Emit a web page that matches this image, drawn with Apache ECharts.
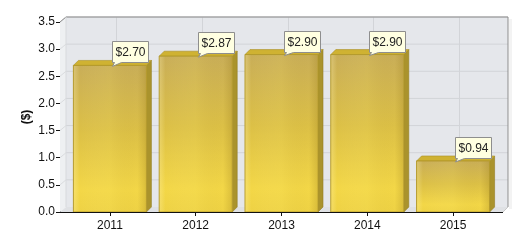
<!DOCTYPE html>
<html><head><meta charset="utf-8">
<script src="https://cdn.jsdelivr.net/npm/echarts@6/dist/echarts.min.js"></script>
<style>html,body{margin:0;padding:0;background:#fff}#c{width:530px;height:250px}</style>
</head><body><div id="c"></div>
<script>
const categories = ['2011', '2012', '2013', '2014', '2015'];
const values = [2.70, 2.87, 2.90, 2.90, 0.94];
const yTicks = [0, 0.5, 1.0, 1.5, 2.0, 2.5, 3.0, 3.5];
const yAxisName = '($)';

const FONT = '"Liberation Sans", Arial, sans-serif';
const WD = 6, BD = 5;

function renderWall(params, api) {
  const cs = params.coordSys;
  const fx0 = cs.x - 7, fx1 = cs.x + cs.width + 7;
  const fy0 = cs.y, fy1 = cs.y + cs.height;
  const ch = [];
  ch.push({type:'rect', shape:{x:fx1+6, y:fy0-3, width:3, height:fy1-fy0}, style:{fill:'#f3f3f3'}});
  ch.push({type:'polygon', shape:{points:[[fx0,fy0],[fx0+WD,fy0-5],[fx0+WD,fy1-5],[fx0,fy1]]}, style:{fill:'#eef0f2'}});
  ch.push({type:'polygon', shape:{points:[[fx0,fy1],[fx0+WD,fy1-5],[fx1+5,fy1-5],[fx1,fy1]]}, style:{fill:'#dfe1e4'}});
  ch.push({type:'rect', shape:{x:fx0+WD, y:fy0-5, width:fx1+5-(fx0+WD), height:fy1-fy0}, style:{fill:'#e5e7eb'}});
  yTicks.forEach(function (v) {
    if (v === 0) return;
    const y = api.coord([0, v])[1];
    ch.push({type:'line', shape:{x1:fx0+WD, y1:y-5, x2:fx1+5, y2:y-5}, style:{stroke:'#d2d4d8', lineWidth:1}});
    ch.push({type:'line', shape:{x1:fx0, y1:y, x2:fx0+WD, y2:y-5}, style:{stroke:'#dadcdf', lineWidth:1}});
  });
  categories.forEach(function (c, i) {
    const x = Math.round(api.coord([i, 0])[0] + WD) + 0.5;
    ch.push({type:'line', shape:{x1:x, y1:fy0-5, x2:x, y2:fy1-5}, style:{stroke:'#d2d4d8', lineWidth:1}});
  });
  ch.push({type:'polyline', shape:{points:[[fx0,fy0],[fx0+WD,fy0-5],[fx1+5,fy0-5],[fx1+5,fy1-5]]}, style:{stroke:'#8c8c8c', lineWidth:1, fill:null}});
  ch.push({type:'line', shape:{x1:fx0+WD, y1:fy0-5, x2:fx0+WD, y2:fy1-5}, style:{stroke:'#d8dadd', lineWidth:1}});
  ch.push({type:'line', shape:{x1:fx1, y1:fy1, x2:fx1+5, y2:fy1-5}, style:{stroke:'#c8c8c8', lineWidth:1}});
  return {type:'group', children:ch};
}

function renderBar(params, api) {
  const i = api.value(0), v = api.value(1);
  const top = api.coord([i, v]), base = api.coord([i, 0]);
  const hw = 36.5;
  const x0 = top[0] - hw, x1 = top[0] + hw, yT = top[1], yB = base[1];
  const grad = new echarts.graphic.LinearGradient(0, 0, 0, 1, [
    {offset:0, color:'#c9ae58'},
    {offset:0.45, color:'#dcc046'},
    {offset:0.85, color:'#f3d747'},
    {offset:1, color:'#eed244'}
  ]);
  const side = new echarts.graphic.LinearGradient(0, 0, 1, 0, [
    {offset:0, color:'rgba(255,245,190,0.28)'},
    {offset:0.08, color:'rgba(255,245,190,0)'},
    {offset:0.5, color:'rgba(255,240,120,0.10)'},
    {offset:0.88, color:'rgba(140,110,20,0)'},
    {offset:1, color:'rgba(140,110,20,0.22)'}
  ]);
  return {type:'group', children:[
    {type:'polygon', shape:{points:[[x1,yT],[x1+BD,yT-BD],[x1+BD,yB-BD],[x1,yB]]}, style:{fill:'#aa932c', stroke:'#937e22', lineWidth:0.6}},
    {type:'polygon', shape:{points:[[x0,yT],[x0+BD,yT-BD],[x1+BD,yT-BD],[x1,yT]]}, style:{fill:'#cfb232', stroke:'#a88f25', lineWidth:0.6}},
    {type:'rect', shape:{x:x0, y:yT, width:x1-x0, height:yB-yT}, style:{fill:grad, stroke:'#b49a2c', lineWidth:1}},
    {type:'rect', shape:{x:x0+0.5, y:yT+0.5, width:x1-x0-1, height:yB-yT-1}, style:{fill:side}}
  ]};
}

function renderLabel(params, api) {
  const i = api.value(0), v = api.value(1);
  const top = api.coord([i, v]);
  const cx = top[0], yT = top[1];
  const bx = Math.round(cx + 2) + 0.5, by = Math.round(yT - 24) + 0.5, w = 36, h = 21;
  return {type:'group', children:[
    {type:'polygon', shape:{points:[[bx,by],[bx+w,by],[bx+w,by+h],[bx+9,by+h],[bx,yT+1],[bx+2,by+h],[bx,by+h]]}, style:{fill:'#ffffe1', stroke:'#8e8e8e', lineWidth:1}},
    {type:'text', style:{x:bx+w/2, y:by+h/2+0.5, text:'$' + v.toFixed(2), fill:'#222', font:'12px ' + FONT, align:'center', verticalAlign:'middle'}}
  ]};
}

function renderXLine(params, api) {
  const cs = params.coordSys;
  const y = cs.y + cs.height + 0.5;
  return {type:'line', shape:{x1:cs.x - 7, y1:y, x2:cs.x + cs.width + 7, y2:y}, style:{stroke:'#111', lineWidth:1}};
}

const data = values.map(function (v, i) { return [i, v]; });

const chart = echarts.init(document.getElementById('c'), null, {renderer:'canvas'});
chart.setOption({
  animation:false,
  backgroundColor:'#fff',
  grid:{left:67, right:34, top:22, bottom:38},
  xAxis:{type:'category', data:categories,
    axisLine:{show:false},
    axisTick:{show:true, alignWithLabel:true, length:4, lineStyle:{color:'#111'}},
    axisLabel:{fontSize:12, color:'#111', fontFamily:FONT, margin:8},
    splitLine:{show:false}},
  yAxis:{type:'value', min:0, max:3.5, interval:0.5, offset:7,
    name:yAxisName, nameLocation:'middle', nameRotate:90, nameGap:27, nameMoveOverlap:false,
    nameTextStyle:{fontSize:12, fontWeight:'bold', color:'#111', fontFamily:FONT},
    axisLine:{show:true, lineStyle:{color:'#111'}},
    axisTick:{show:true, length:4, lineStyle:{color:'#111'}},
    axisLabel:{fontSize:12, color:'#111', fontFamily:FONT, margin:5, formatter:function (v) { return v.toFixed(1); }},
    splitLine:{show:false}},
  series:[
    {type:'custom', name:'wall', renderItem:renderWall, data:[[0,0]], z:1, silent:true, clip:false},
    {type:'custom', name:'bars', renderItem:renderBar, data:data, z:3, clip:false},
    {type:'custom', name:'axisline', renderItem:renderXLine, data:[[0,0]], z:4, silent:true, clip:false},
    {type:'custom', name:'labels', renderItem:renderLabel, data:data, z:5, clip:false}
  ]
});
</script></body></html>
